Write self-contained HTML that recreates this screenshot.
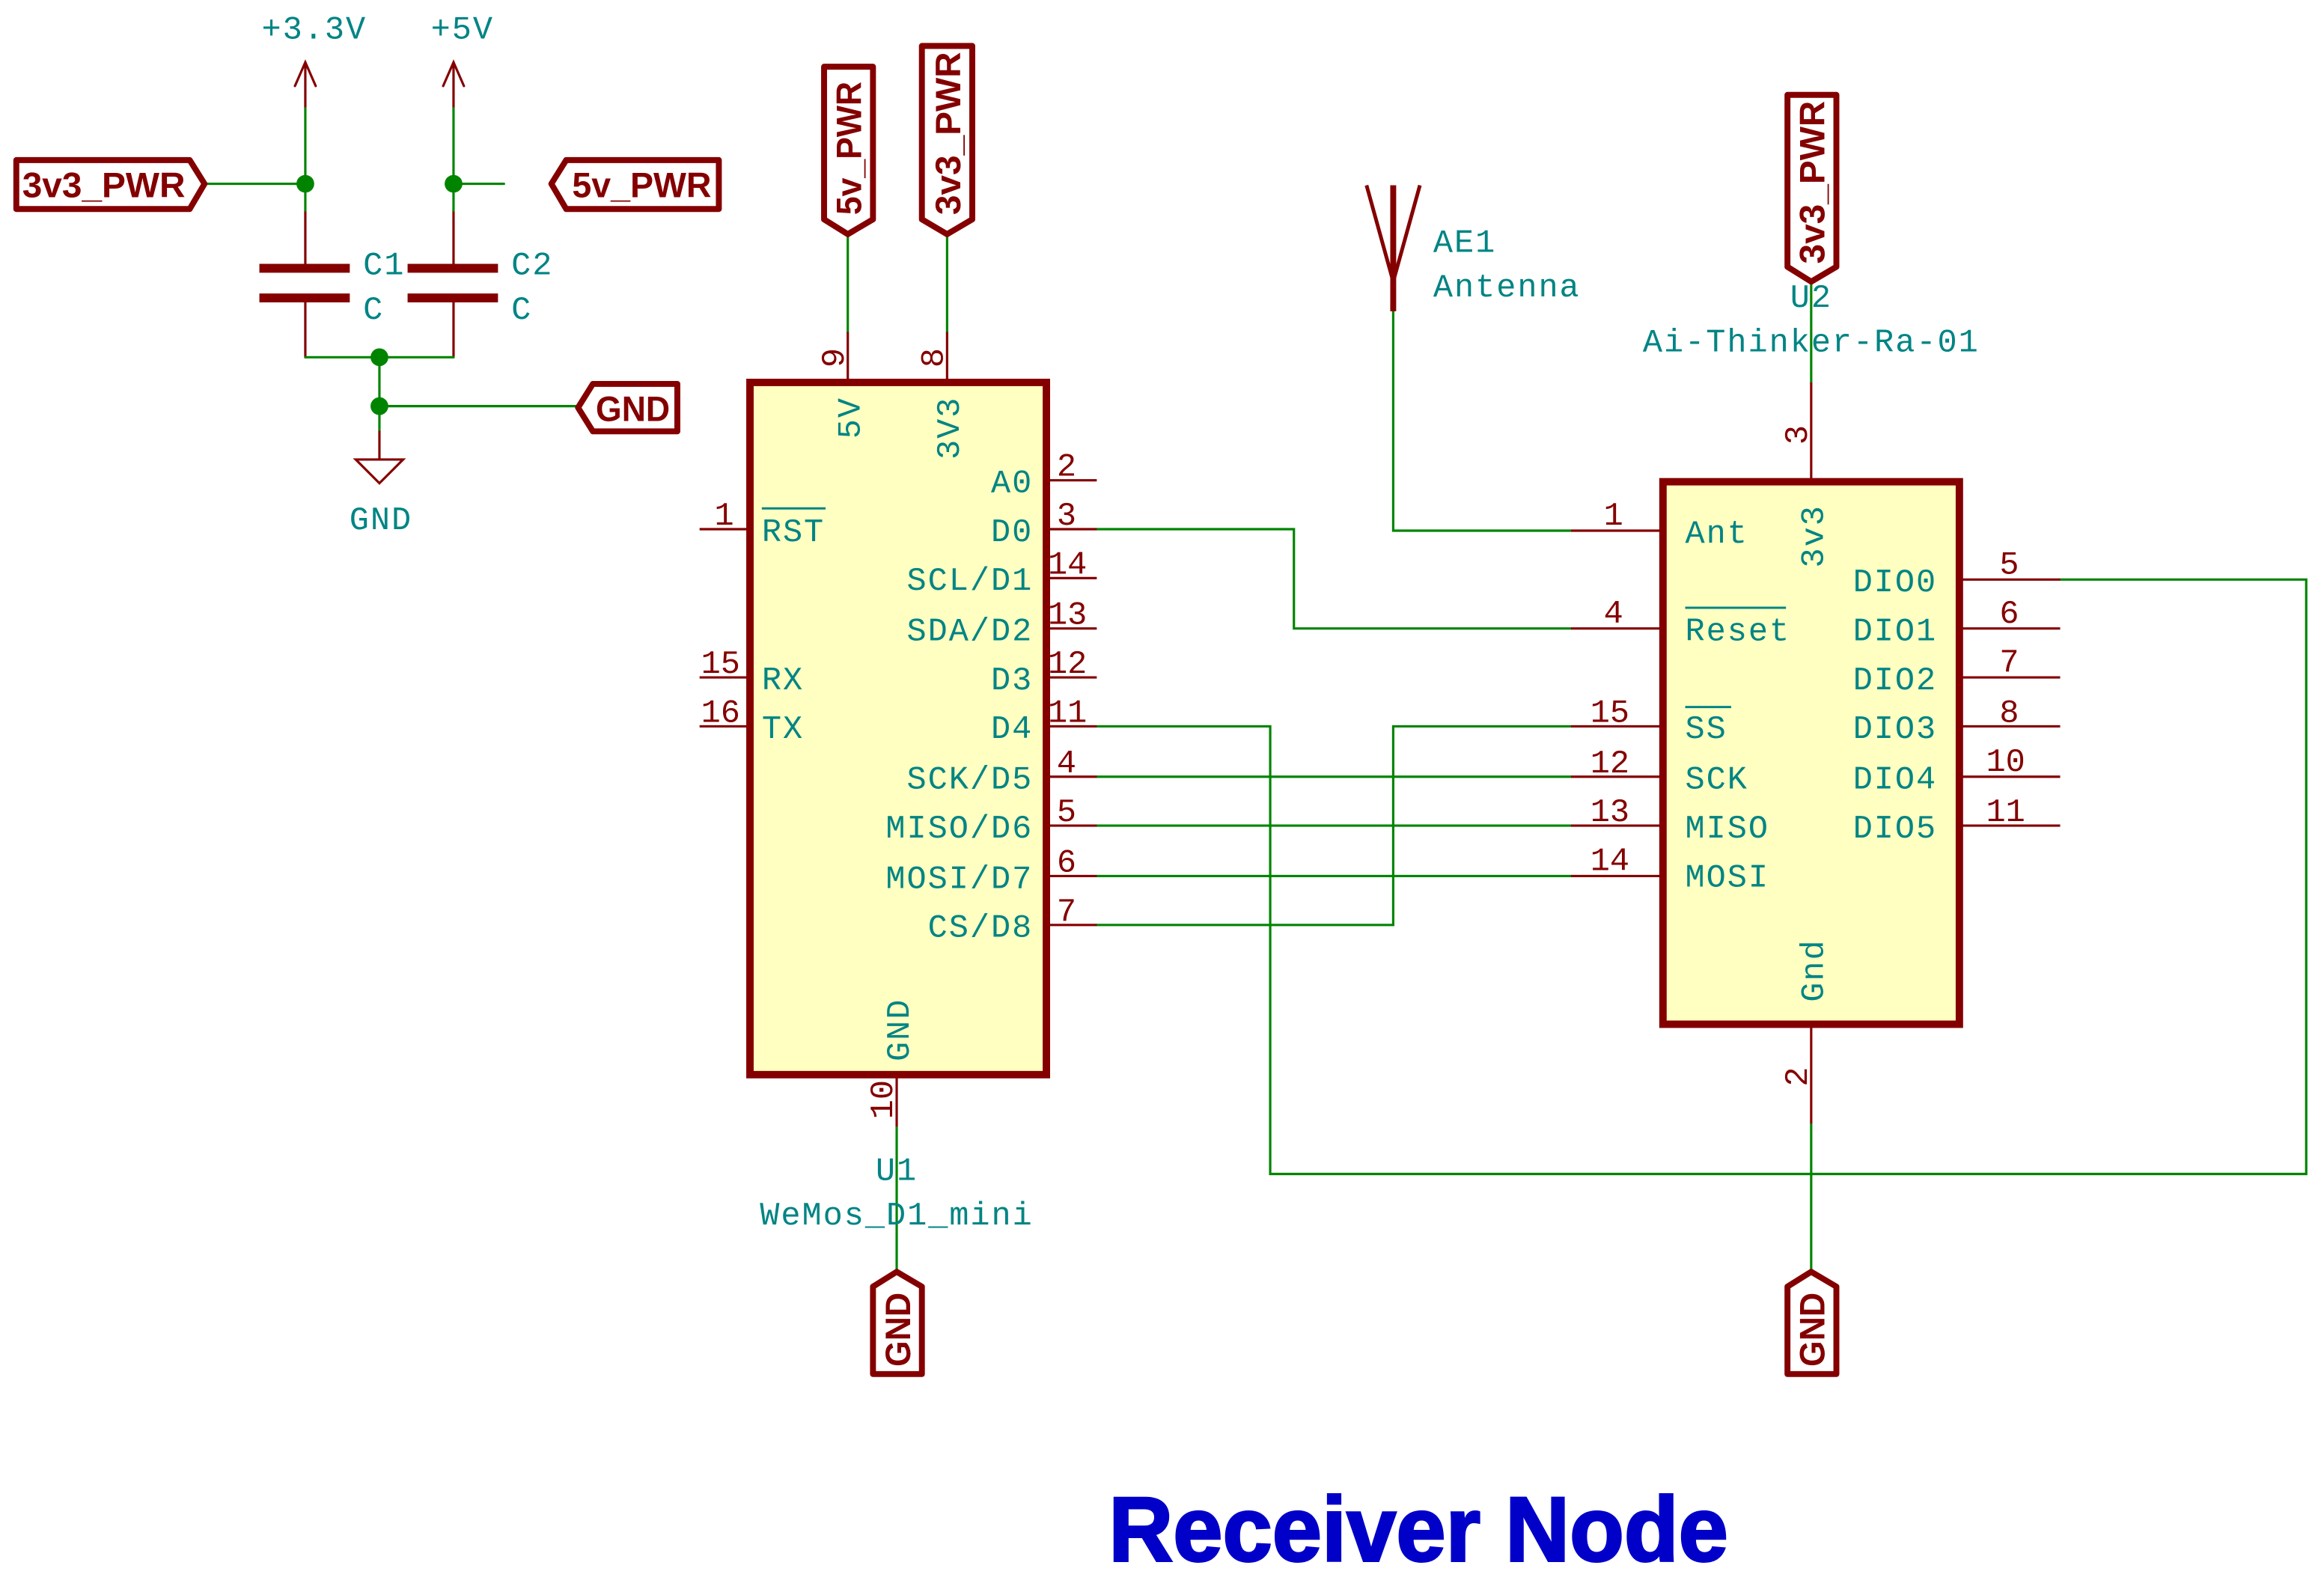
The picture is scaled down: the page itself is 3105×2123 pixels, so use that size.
<!DOCTYPE html>
<html><head><meta charset="utf-8"><style>
html,body{margin:0;padding:0;background:#fff;}
svg{display:block;}
.t{font-family:"Liberation Mono",monospace;font-size:22px;fill:#008484;letter-spacing:1px;}
.n{font-family:"Liberation Mono",monospace;font-size:22px;fill:#840000;}
.lb{font-family:"Liberation Sans",sans-serif;font-weight:bold;font-size:24px;fill:#840000;}
</style></head><body>
<svg width="3105" height="2123" viewBox="0 0 1568 1072" preserveAspectRatio="none" xmlns="http://www.w3.org/2000/svg">
<g fill="none" stroke-linecap="round">
<g stroke="#840000" stroke-width="1.6">
<path d="M206 42 V73 M199 58 L206 42 L213 58"/>
<path d="M306 42 V73 M299 58 L306 42 L313 58"/>
<path d="M206 142 V178 M306 142 V178 M206 204 V241 M306 204 V241"/>
<path d="M256 290 V310 M240 310 H272 L256 326 Z"/>
</g>
<g stroke="#008400" stroke-width="1.6">
<path d="M206 73 V142 M306 73 V142 M138 124 H206 M306 124 H340"/>
<path d="M206 241 H306 M256 241 V290 M256 274 H390"/>
<path d="M572 158 V224 M639 158 V224"/>
<path d="M605 760 V858"/>
<path d="M940 210 V358 H1060"/>
<path d="M740 357 H873 V424 H1060"/>
<path d="M740 490 H857 V792 H1556 V391 H1390"/>
<path d="M740 524 H1060 M740 557 H1060 M740 591 H1060"/>
<path d="M740 624 H940 V490 H1060"/>
<path d="M1222 190 V258 M1222 758 V858"/>
</g>
</g>
<g fill="#008400"><circle cx="206" cy="124" r="6"/><circle cx="306" cy="124" r="6"/><circle cx="256" cy="241" r="6"/><circle cx="256" cy="274" r="6"/></g>
<g fill="#840000">
<rect x="175" y="178" width="61" height="6"/><rect x="175" y="198" width="61" height="6"/>
<rect x="275" y="178" width="61" height="6"/><rect x="275" y="198" width="61" height="6"/>
</g>
<text class="t" x="212" y="26" text-anchor="middle">+3.3V</text>
<text class="t" x="312" y="26" text-anchor="middle">+5V</text>
<text class="t" x="245" y="185">C1</text><text class="t" x="245" y="215">C</text>
<text class="t" x="345" y="185">C2</text><text class="t" x="345" y="215">C</text>
<text class="t" x="257" y="357" text-anchor="middle">GND</text>
<g fill="#fff" stroke="#840000" stroke-width="4" stroke-linejoin="round">
<path d="M11 108 H128 L138 124 L128 141 H11 Z"/>
<path d="M485 108 H382 L372 124 L382 141 H485 Z"/>
<path d="M457 259 H400 L390 275 L400 291 H457 Z"/>
<path d="M556 45 H589 V148 L572 158 L556 148 Z"/>
<path d="M622 31 H656 V148 L639 158 L622 148 Z"/>
<path d="M1206 64 H1239 V180 L1222 190 L1206 180 Z"/>
<path d="M589 927 V868 L605 858 L622 868 V927 Z"/>
<path d="M1206 927 V868 L1222 858 L1239 868 V927 Z"/>
</g>
<text class="lb" x="15" y="133" textLength="110" lengthAdjust="spacingAndGlyphs">3v3_PWR</text>
<text class="lb" x="386" y="133" textLength="94" lengthAdjust="spacingAndGlyphs">5v_PWR</text>
<text class="lb" x="402" y="284" textLength="50" lengthAdjust="spacingAndGlyphs">GND</text>
<text class="lb" transform="translate(581,145) rotate(-90)" textLength="90" lengthAdjust="spacingAndGlyphs">5v_PWR</text>
<text class="lb" transform="translate(648,145) rotate(-90)" textLength="110" lengthAdjust="spacingAndGlyphs">3v3_PWR</text>
<text class="lb" transform="translate(1231,178) rotate(-90)" textLength="110" lengthAdjust="spacingAndGlyphs">3v3_PWR</text>
<text class="lb" transform="translate(614,922) rotate(-90)" textLength="50" lengthAdjust="spacingAndGlyphs">GND</text>
<text class="lb" transform="translate(1231,922) rotate(-90)" textLength="50" lengthAdjust="spacingAndGlyphs">GND</text>
<g stroke="#840000" stroke-width="1.6">
<path d="M472 357 H506 M472 457 H506 M472 490 H506"/>
<path d="M706 324 H740 M706 357 H740 M706 390 H740 M706 424 H740 M706 457 H740 M706 490 H740 M706 524 H740 M706 557 H740 M706 591 H740 M706 624 H740"/>
<path d="M572 224 V258 M639 224 V258 M605 725 V760"/>
</g>
<rect x="506" y="258" width="200" height="467" fill="#ffffc2" stroke="#840000" stroke-width="5"/>
<g class="n">
<text x="482" y="354">1</text><text x="473" y="454">15</text><text x="473" y="487">16</text>
<text x="713" y="321">2</text><text x="713" y="354">3</text><text x="707" y="387">14</text><text x="707" y="421">13</text><text x="707" y="454">12</text><text x="707" y="487">11</text><text x="713" y="521">4</text><text x="713" y="554">5</text><text x="713" y="588">6</text><text x="713" y="621">7</text>
<text transform="translate(569,248) rotate(-90)">9</text>
<text transform="translate(636,248) rotate(-90)">8</text>
<text transform="translate(602,755) rotate(-90)">10</text>
</g>
<g class="t">
<text x="514" y="365">RST</text><path d="M514 343 H557" stroke="#008484" stroke-width="1.5"/>
<text x="514" y="465">RX</text><text x="514" y="498">TX</text>
<g text-anchor="end">
<text x="697" y="332">A0</text><text x="697" y="365">D0</text><text x="697" y="398">SCL/D1</text><text x="697" y="432">SDA/D2</text><text x="697" y="465">D3</text><text x="697" y="498">D4</text><text x="697" y="532">SCK/D5</text><text x="697" y="565">MISO/D6</text><text x="697" y="599">MOSI/D7</text><text x="697" y="632">CS/D8</text>
</g>
<text transform="translate(580,296) rotate(-90)">5V</text>
<text transform="translate(647,310) rotate(-90)">3V3</text>
<text transform="translate(613,716) rotate(-90)">GND</text>
<text x="605" y="796" text-anchor="middle">U1</text>
<text x="605" y="826" text-anchor="middle">WeMos_D1_mini</text>
</g>
<g stroke="#840000" stroke-width="4" fill="none"><path d="M940 125 V210"/><path d="M922 125 L940 190 L958 125" stroke-width="2.5"/></g>
<text class="t" x="967" y="170">AE1</text><text class="t" x="967" y="200">Antenna</text>
<g stroke="#840000" stroke-width="1.6">
<path d="M1060 358 H1122 M1060 424 H1122 M1060 490 H1122 M1060 524 H1122 M1060 557 H1122 M1060 591 H1122"/>
<path d="M1322 391 H1390 M1322 424 H1390 M1322 457 H1390 M1322 490 H1390 M1322 524 H1390 M1322 557 H1390"/>
<path d="M1222 258 V325 M1222 691 V758"/>
</g>
<rect x="1122" y="325" width="200" height="366" fill="#ffffc2" stroke="#840000" stroke-width="5"/>
<g class="n">
<text x="1082" y="354">1</text><text x="1082" y="420">4</text><text x="1073" y="487">15</text><text x="1073" y="521">12</text><text x="1073" y="554">13</text><text x="1073" y="587">14</text>
<text x="1349" y="387">5</text><text x="1349" y="420">6</text><text x="1349" y="453">7</text><text x="1349" y="487">8</text><text x="1340" y="520">10</text><text x="1340" y="554">11</text>
<text transform="translate(1219,300) rotate(-90)">3</text>
<text transform="translate(1219,733) rotate(-90)">2</text>
</g>
<g class="t">
<text x="1137" y="366">Ant</text>
<text x="1137" y="432">Reset</text><path d="M1137 410 H1205" stroke="#008484" stroke-width="1.5"/>
<text x="1137" y="498">SS</text><path d="M1137 477 H1168" stroke="#008484" stroke-width="1.5"/>
<text x="1137" y="532">SCK</text><text x="1137" y="565">MISO</text><text x="1137" y="598">MOSI</text>
<g text-anchor="end">
<text x="1307" y="399">DIO0</text><text x="1307" y="432">DIO1</text><text x="1307" y="465">DIO2</text><text x="1307" y="498">DIO3</text><text x="1307" y="532">DIO4</text><text x="1307" y="565">DIO5</text>
</g>
<text transform="translate(1230,383) rotate(-90)">3v3</text>
<text transform="translate(1230,676) rotate(-90)">Gnd</text>
<text x="1222" y="207" text-anchor="middle">U2</text>
<text x="1222" y="237" text-anchor="middle">Ai-Thinker-Ra-01</text>
</g>
<text x="957" y="1053" text-anchor="middle" textLength="418" lengthAdjust="spacingAndGlyphs" style="font-family:'Liberation Sans',sans-serif;font-weight:bold;font-size:62px;fill:#0000c8;stroke:#0000c8;stroke-width:1.5">Receiver Node</text>
</svg>
</body></html>
